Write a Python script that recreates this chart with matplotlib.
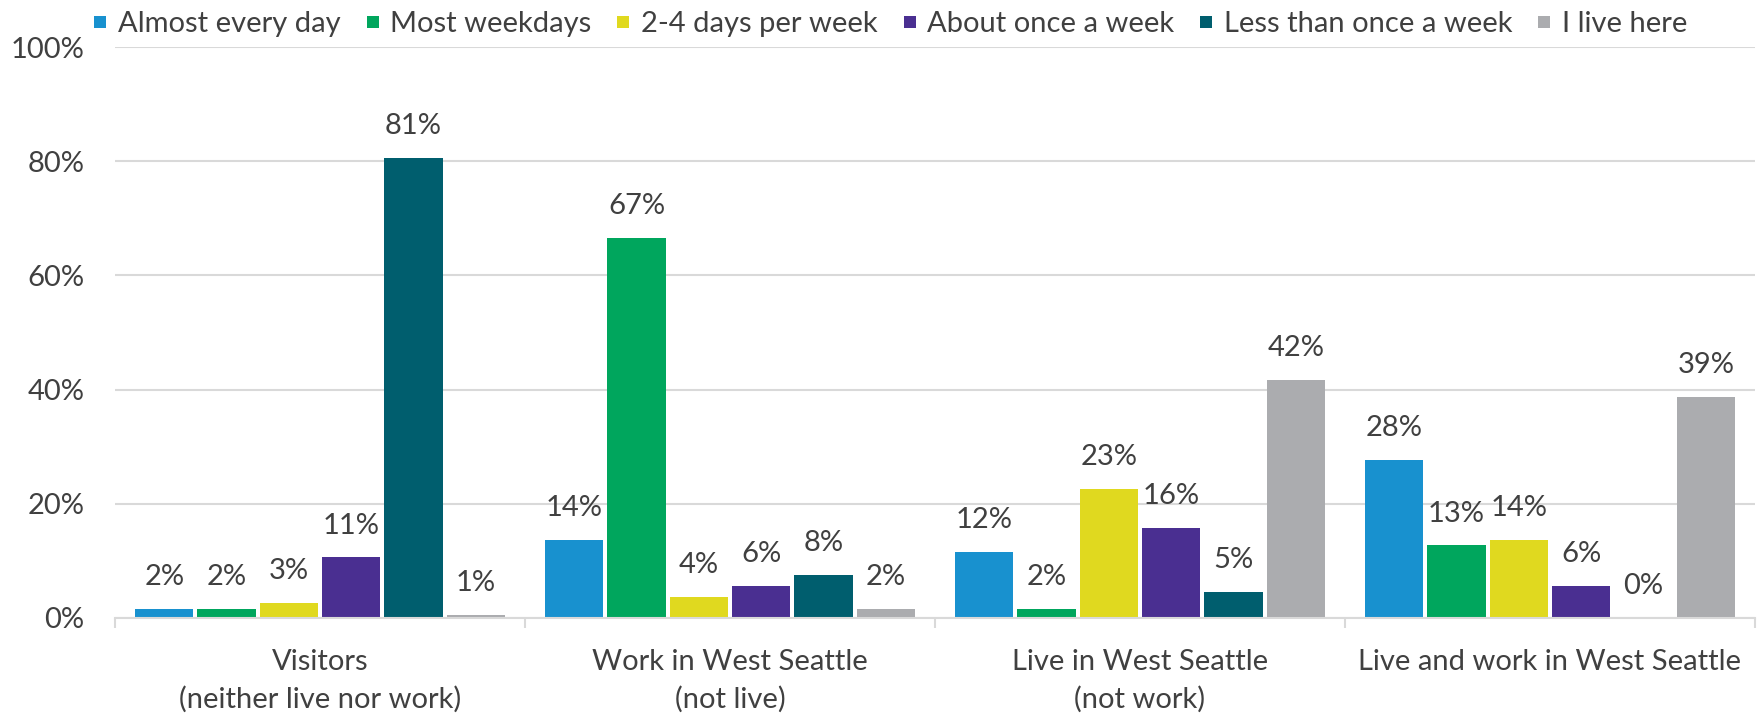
import matplotlib
matplotlib.use("Agg")
import matplotlib.pyplot as plt
from matplotlib.lines import Line2D
import numpy as np

plt.rcParams['font.family'] = ['Lato', 'DejaVu Sans']

categories = ["Visitors\n(neither live nor work)", "Work in West Seattle\n(not live)",
              "Live in West Seattle\n(not work)", "Live and work in West Seattle"]
series_names = ["Almost every day", "Most weekdays", "2-4 days per week",
                "About once a week", "Less than once a week", "I live here"]
almost_every_day = [1.6, 13.6, 11.6, 27.6]
most_weekdays = [1.6, 66.6, 1.6, 12.7]
days_2_4 = [2.6, 3.6, 22.6, 13.6]
about_once = [10.6, 5.6, 15.7, 5.6]
less_than_once = [80.6, 7.6, 4.6, 0.0]
i_live_here = [0.6, 1.6, 41.7, 38.7]
series_values = [almost_every_day, most_weekdays, days_2_4, about_once, less_than_once, i_live_here]
colors = ["#1891CF", "#00A65D", "#E0D91F", "#4A2F91", "#005E6E", "#ABACAF"]
yticks = [0, 20, 40, 60, 80, 100]

text_color = "#404040"
grid_color = "#D9D9D9"
fs = 21

fig = plt.figure(figsize=(17.58, 7.15), dpi=100)
ax = fig.add_axes([115/1758, 1-618/715, (1755-115)/1758, (618-47)/715])

x = np.arange(len(categories))
group_w = 0.912
slot = group_w / len(series_names)
for i, (name, vals, c) in enumerate(zip(series_names, series_values, colors)):
    pos = x - group_w/2 + slot*(i+0.5)
    ax.bar(pos, vals, width=slot*0.935, color=c, label=name, zorder=3)
    for p, v in zip(pos, vals):
        ax.annotate(f"{round(v)}%", (p, v), xytext=(0, 23), textcoords="offset points",
                    ha="center", va="center", fontsize=fs, color=text_color)

ax.set_xlim(-0.5, len(categories)-0.5)
ax.set_ylim(0, 100)
ax.set_yticks(yticks)
ax.set_yticklabels([f"{t}%" for t in yticks])
ax.yaxis.grid(True, color=grid_color, linewidth=1.5, zorder=0)
ax.tick_params(axis='y', length=0, pad=22, labelsize=fs, labelcolor=text_color)

ax.set_xticks(np.arange(-0.5, len(categories)), minor=False)
ax.set_xticklabels([])
ax.set_xticks(x, minor=True)
ax.set_xticklabels(categories, minor=True, linespacing=1.5)
ax.tick_params(axis='x', which='major', length=7, color=grid_color, width=1.5, direction='out')
ax.tick_params(axis='x', which='minor', length=0, pad=22, labelsize=fs, labelcolor=text_color)

for s in ['top', 'right', 'left']:
    ax.spines[s].set_visible(False)
ax.spines['bottom'].set_color(grid_color)
ax.spines['bottom'].set_linewidth(1.5)
ax.spines['bottom'].set_zorder(4)

handles = [Line2D([], [], marker='s', linestyle='none', markersize=9.3, color=c,
                  markeredgewidth=0) for c in colors]
fig.legend(handles, series_names, loc='center', bbox_to_anchor=(0.5064, 1-24/715), ncol=6,
           frameon=False, fontsize=fs, labelcolor=text_color, handlelength=0.5,
           handletextpad=0.35, columnspacing=0.85)

fig.savefig("out.png", dpi=100)
